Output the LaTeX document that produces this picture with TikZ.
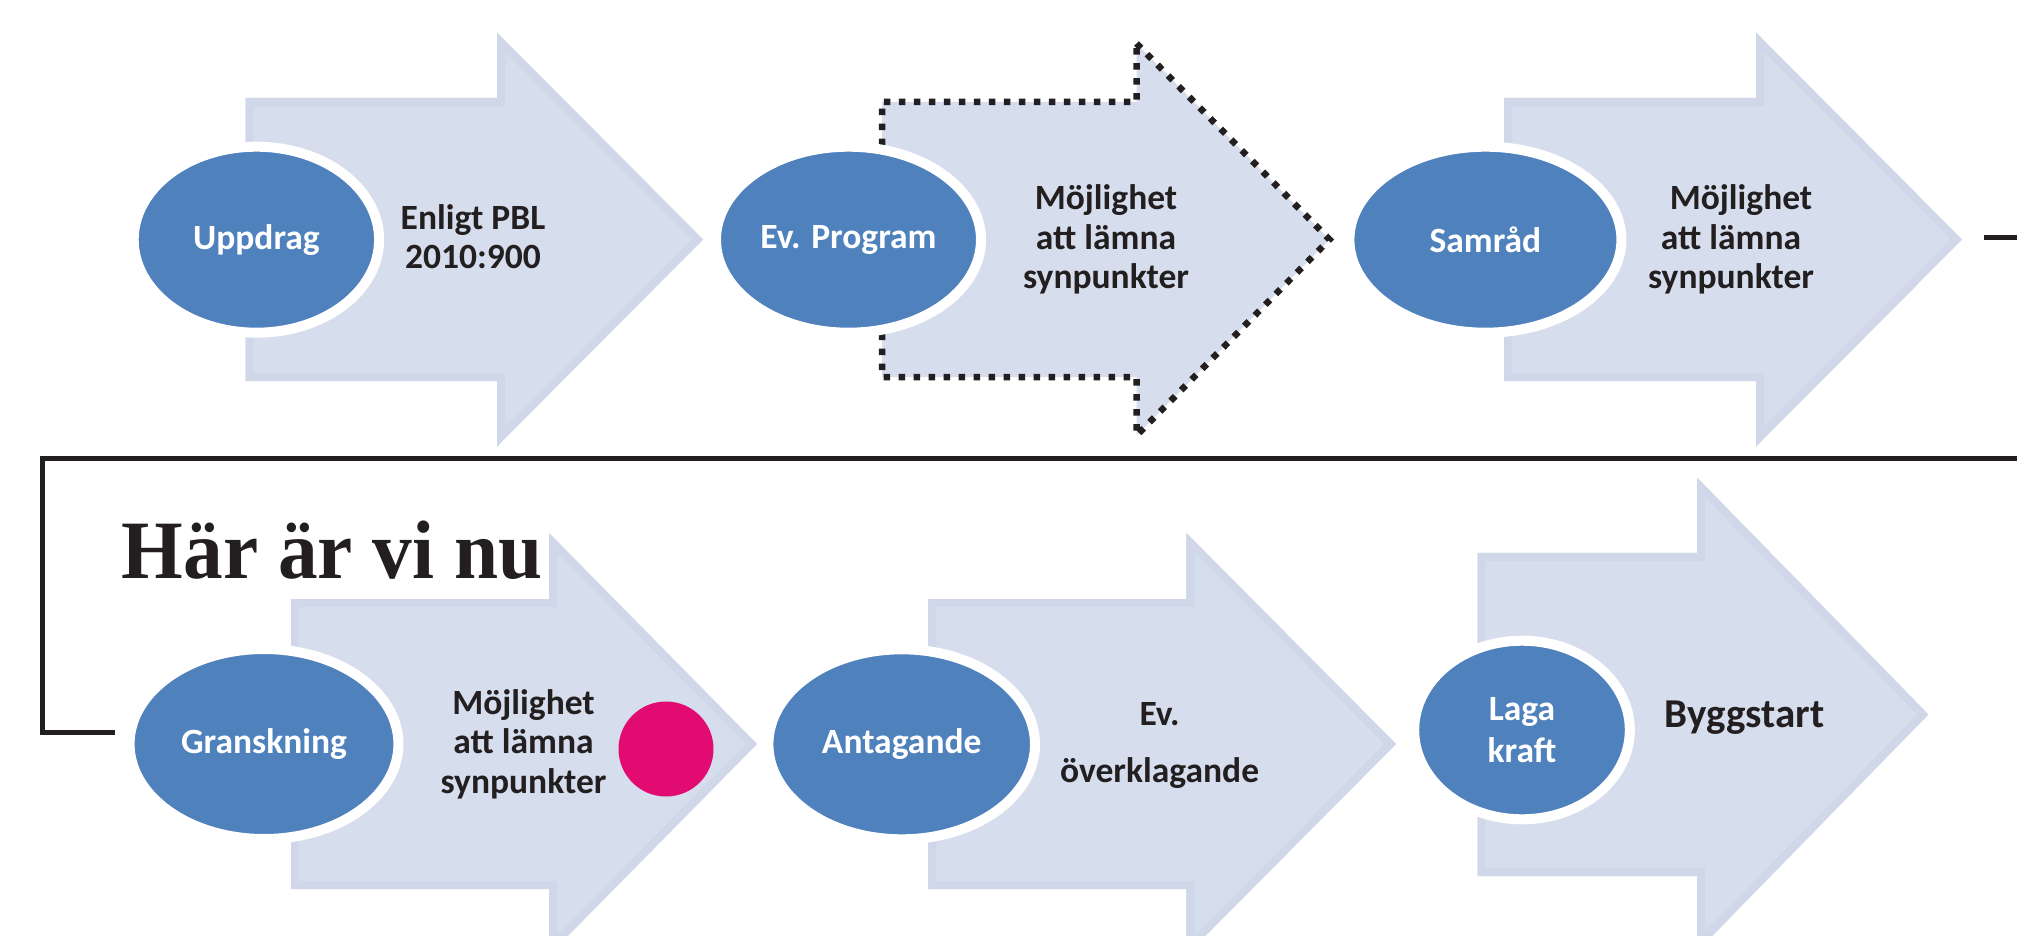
\documentclass[tikz,border=0pt]{standalone}
\usepackage{fontspec}
\usepackage{graphicx}
\setmainfont{Carlito}
\newfontfamily\titlefont{Liberation Serif}
\usetikzlibrary{shapes.geometric}
\definecolor{eblue}{HTML}{4F81BD}
\definecolor{arrowfill}{HTML}{D6DDEC}
\definecolor{arrowband}{HTML}{CFD7E8}
\definecolor{ink}{HTML}{231F20}
\definecolor{dotpink}{HTML}{E20B72}
\tikzset{
  stage/.style={ellipse, fill=eblue, draw=white, line width=10pt, inner sep=0pt,
    text=white, align=center, font=\bfseries\fontsize{35.5}{42}\selectfont},
  lbl/.style={text=ink, align=center, inner sep=0pt, font=\bfseries\fontsize{35.5}{39.5}\selectfont},
  conn/.style={draw=ink, line width=5pt, line join=miter},
  dotborder/.style={draw=ink, line width=6.5pt, dash pattern=on 6.5pt off 8.5pt},
}
% #1 x0, #2 xh, #3 xt, #4 yc, #5 shaft half, #6 head half
\newcommand\arrowpath[6]{(#1,#4-#5) -- (#2,#4-#5) -- (#2,#4-#6) -- (#3,#4) -- (#2,#4+#6) -- (#2,#4+#5) -- (#1,#4+#5) -- cycle}
\newcommand\flowarrow[6]{%
  \fill[arrowfill] \arrowpath{#1}{#2}{#3}{#4}{#5}{#6};
  \begin{scope}
    \clip \arrowpath{#1}{#2}{#3}{#4}{#5}{#6};
    \draw[arrowband, line width=16pt] \arrowpath{#1}{#2}{#3}{#4}{#5}{#6};
  \end{scope}}
\begin{document}
\begin{tikzpicture}[x=1pt, y=-1pt]
\useasboundingbox (0,0) rectangle (2017,936);
\clip (0,0) rectangle (2017,936);

% ---------- row 1 ----------
\flowarrow{245.6}{497}{703}{239.5}{141.5}{207}
\node[stage, minimum width=245.4pt, minimum height=186pt] (e1) at (256.4,239.7) {Uppdrag};
\node[lbl, font=\bfseries\fontsize{35.5}{39}\selectfont] (t1) at (473,237) {Enligt PBL\\2010:900};

\fill[arrowfill] \arrowpath{882}{1136.5}{1329.5}{239.5}{137.5}{196};
\draw[dotborder] (1136.5,43.5) -- (1329.5,239.5) -- (1136.5,435.5) -- (1136.5,377) -- (882,377) -- (882,102) -- (1136.5,102) -- cycle;
\node[stage, minimum width=265pt, minimum height=186pt] (e2) at (848.5,239.7) {Ev. Program};
\node[lbl] (t2) at (1106,239.5) {Möjlighet\\att lämna\\synpunkter};

\flowarrow{1504}{1756}{1962}{239.5}{141.5}{207}
\node[stage, minimum width=272pt, minimum height=186pt] (e3) at (1485.4,239.7) {Samråd};
\node[lbl] (t3) at (1731,239.5) {\hspace*{20pt}Möjlighet\\att lämna\\synpunkter};

% ---------- row 2 ----------
\flowarrow{291}{549}{757}{744}{145}{211}
\node[stage, minimum width=268.8pt, minimum height=190pt] (e4) at (264,744) {Granskning};
\node[lbl] (t4) at (523.5,744) {Möjlighet\\att lämna\\synpunkter};
\node[circle, fill=dotpink, minimum size=95pt, inner sep=0pt] (dot) at (666,749) {};

\flowarrow{928}{1186.4}{1396}{744}{145}{211}
\node[stage, minimum width=266.6pt, minimum height=190pt] (e5) at (901.7,744.3) {Antagande};
\node[lbl, font=\bfseries\fontsize{35.5}{56.7}\selectfont] (t5) at (1159.6,745.5) {Ev.\\överklagande};

\flowarrow{1477.5}{1697}{1928.4}{714.5}{161.7}{237}
\node[stage, minimum width=215.6pt, minimum height=178.6pt] (e6) at (1522,730) {Laga\\kraft};
\node[lbl, font=\bfseries\fontsize{41}{48}\selectfont] (t6) at (1744.7,717.5) {Byggstart};

% ---------- title ----------
\node[anchor=base west, inner sep=0pt, text=ink, font=\titlefont\bfseries\fontsize{83}{90}\selectfont] (here) at (121.5,578.3) {\scalebox{0.955}[1]{Här är vi nu}};

% ---------- connector ----------
\coordinate (cstart) at (1984,237.3);
\coordinate (cend) at (115,732.5);
\draw[conn] (cstart) -- (2040,237.3) -- (2040,458.3) -- (42.5,458.3) -- (42.5,732.5) -- (cend);
\end{tikzpicture}
\end{document}
